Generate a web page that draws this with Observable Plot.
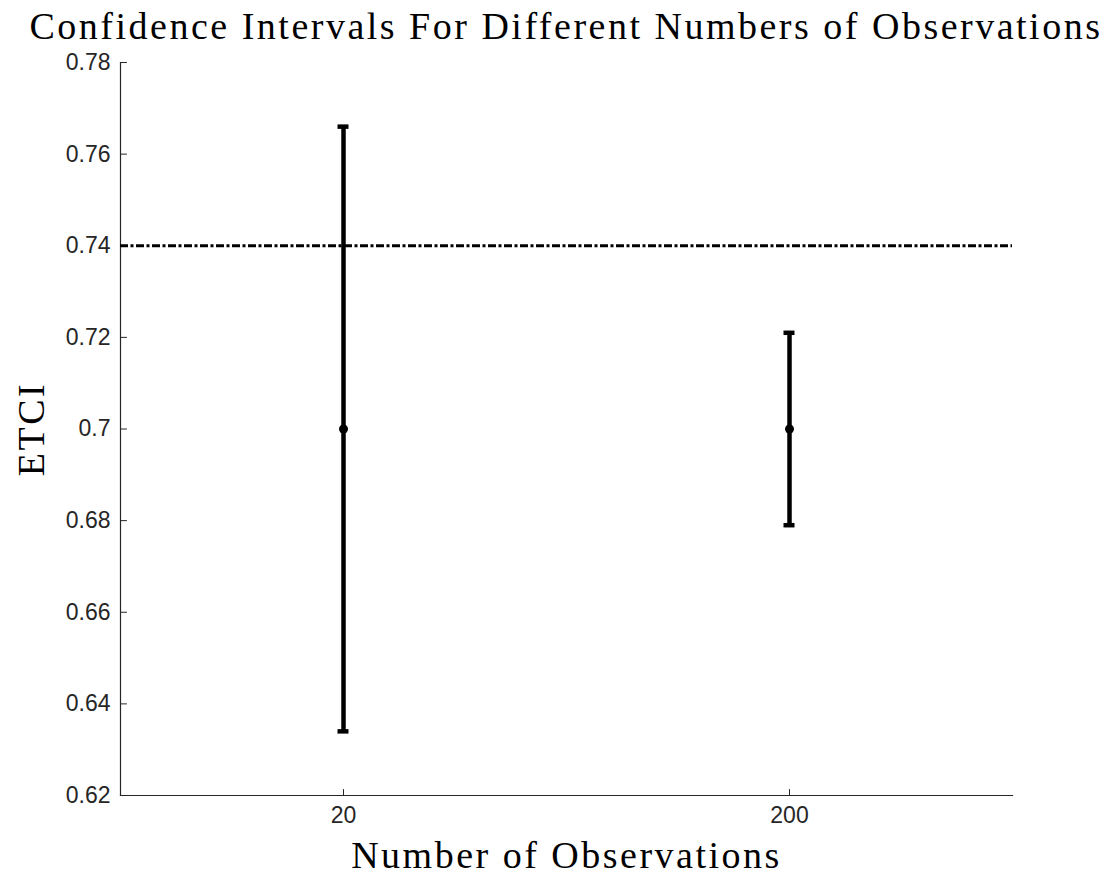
<!DOCTYPE html>
<html>
<head>
<meta charset="utf-8">
<script src="https://cdn.jsdelivr.net/npm/d3@7"></script>
<script src="https://cdn.jsdelivr.net/npm/@observablehq/plot@0.6"></script>
<style>
  html, body { margin: 0; padding: 0; background: #fff; }
  #wrap { position: relative; width: 1114px; height: 878px; overflow: hidden; }
  #title {
    position: absolute; top: 7px; left: 0; width: 1132px;
    text-align: center; font-family: "Liberation Serif", serif;
    font-size: 38px; line-height: 38px; letter-spacing: 2.5px; color: #000; white-space: nowrap;
  }
  #chart { position: absolute; top: 48px; left: 0; }
</style>
</head>
<body>
<div id="wrap">
  <div id="title">Confidence Intervals For Different Numbers of Observations</div>
  <div id="chart"></div>
</div>
<script>
// Sample sizes and the interval estimated for each
const nObs = ["20", "200"];
const center = [0.70, 0.70];
const lower = [0.634, 0.679];
const upper = [0.766, 0.721];

// True value drawn as a reference line
const reference = 0.74;

// Axis ticks
const yTicks = [0.62, 0.64, 0.66, 0.68, 0.70, 0.72, 0.74, 0.76, 0.78];
const yTickLabels = ["0.62", "0.64", "0.66", "0.68", "0.7", "0.72", "0.74", "0.76", "0.78"];

const rows = nObs.map((n, i) => ({n, mid: center[i], lo: lower[i], hi: upper[i]}));

// Short inward tick: a line from the anchor along the vector direction
const tickShape = {draw(ctx, l) { ctx.moveTo(0, 0); ctx.lineTo(0, -l); }};
const axisColor = "#262626";
const serif = "'Liberation Serif', serif";
const cap = {insetLeft: -5.5, insetRight: -5.5, stroke: "black", strokeWidth: 4.5};

const chart = Plot.plot({
  width: 1114,
  height: 830,
  marginTop: 14,
  marginBottom: 83,
  marginLeft: 120,
  marginRight: 102,
  style: {fontFamily: "'Liberation Sans', Arial, sans-serif", fontSize: "23px", color: axisColor, background: "white"},
  x: {type: "point", domain: nObs, padding: 0.5, label: null},
  y: {domain: [0.62, 0.78], label: null},
  marks: [
    Plot.axisX({tickSize: 0, tickPadding: 11, label: null, fill: axisColor}),
    Plot.axisY({ticks: yTicks, tickSize: 0, tickPadding: 10, label: null, fill: axisColor,
      tickFormat: (d) => yTickLabels[yTicks.findIndex((t) => Math.abs(t - d) < 1e-9)]}),
    Plot.vector(yTicks, {y: (d) => d, frameAnchor: "left", rotate: 90, length: 6, anchor: "start", shape: tickShape, stroke: axisColor, strokeWidth: 1}),
    Plot.vector(nObs, {x: (d) => d, frameAnchor: "bottom", rotate: 0, length: 6, anchor: "start", shape: tickShape, stroke: axisColor, strokeWidth: 1}),
    Plot.frame({anchor: "left", stroke: axisColor, strokeWidth: 1.2}),
    Plot.frame({anchor: "bottom", stroke: axisColor, strokeWidth: 1.2}),
    Plot.ruleY([reference], {stroke: "black", strokeWidth: 3, strokeDasharray: "8,2.5,3,2.5"}),
    Plot.ruleX(rows, {x: "n", y1: "lo", y2: "hi", stroke: "black", strokeWidth: 4.5}),
    Plot.ruleY(rows, {y: "lo", x1: "n", x2: "n", ...cap}),
    Plot.ruleY(rows, {y: "hi", x1: "n", x2: "n", ...cap}),
    Plot.dot(rows, {x: "n", y: "mid", r: 4.5, fill: "black"}),
    Plot.text(["Number of Observations"], {text: (d) => d, frameAnchor: "bottom", dy: 72, lineAnchor: "bottom",
      textAnchor: "middle", fontFamily: serif, fontSize: 38, fill: "black"}),
    Plot.text(["ETCI"], {text: (d) => d, frameAnchor: "left", rotate: -90, dx: -77, lineAnchor: "bottom",
      textAnchor: "middle", fontFamily: serif, fontSize: 38, fill: "black"})
  ]
});
// Widen the serif axis titles slightly
d3.select(chart).selectAll("text").filter(function () {
  return this.getAttribute("font-family") === serif || (this.parentNode && this.parentNode.getAttribute("font-family") === serif);
}).style("letter-spacing", "2.5px");
document.getElementById("chart").appendChild(chart);
</script>
</body>
</html>
